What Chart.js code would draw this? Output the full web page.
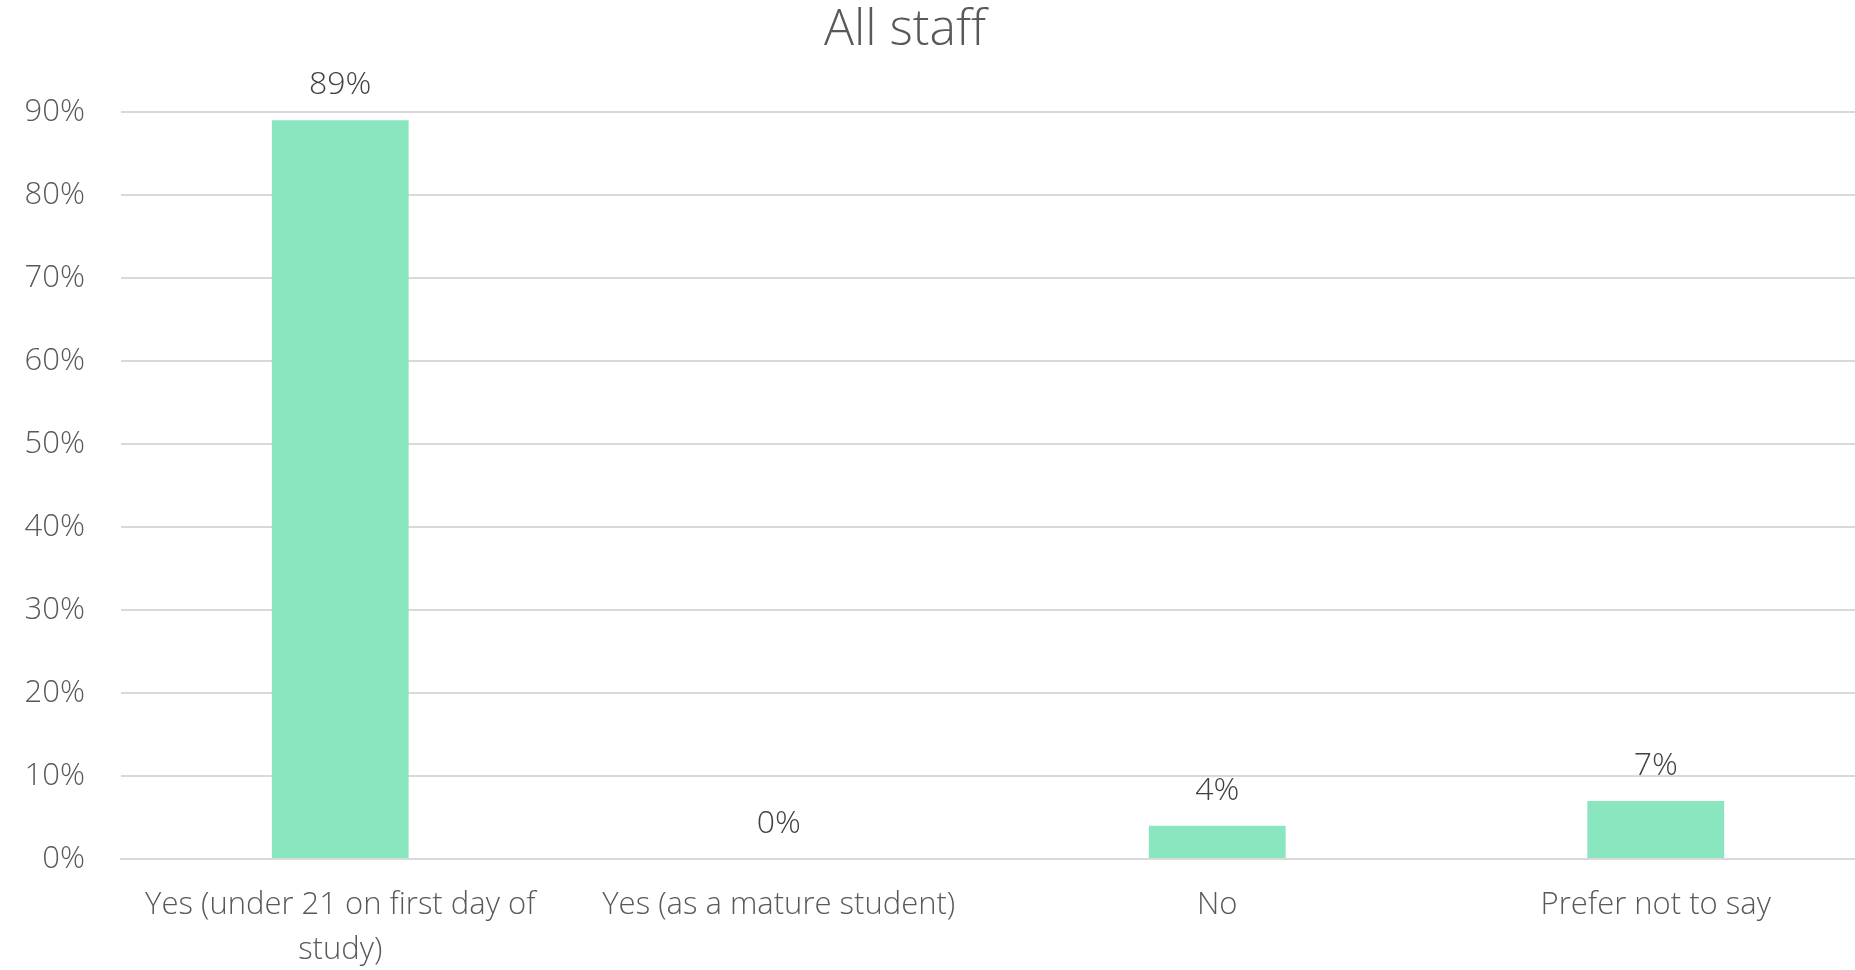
<!DOCTYPE html>
<html>
<head>
<meta charset="utf-8">
<script src="https://cdn.jsdelivr.net/npm/chart.js@4.4.1/dist/chart.umd.min.js"></script>
<style>
  html, body { margin: 0; padding: 0; overflow: hidden; background: #ffffff; }
  #wrap { position: relative; width: 1875px; height: 970px; }
</style>
</head>
<body>
<div id="wrap"><canvas id="c"></canvas></div>
<script>
const chartTitle = "All staff";
const categories = [
  ["Yes (under 21 on first day of", "study)"],
  "Yes (as a mature student)",
  "No",
  "Prefer not to say"
];
const values = [89, 0, 4, 7];
const yTicks = [0, 10, 20, 30, 40, 50, 60, 70, 80, 90];

const FONT = "'Open Sans', Lato, sans-serif";

const valueLabels = {
  id: 'valueLabels',
  afterDatasetsDraw(chart) {
    const ctx = chart.ctx;
    const meta = chart.getDatasetMeta(0);
    ctx.save();
    ctx.font = "300 32px " + FONT;
    ctx.fillStyle = "#404040";
    ctx.textAlign = "center";
    ctx.textBaseline = "middle";
    meta.data.forEach((bar, i) => {
      ctx.fillText(values[i] + "%", bar.x, bar.y - 35);
    });
    ctx.restore();
  }
};

const titlePlugin = {
  id: 'customTitle',
  afterDraw(chart) {
    const ctx = chart.ctx;
    ctx.save();
    ctx.font = "300 50px " + FONT;
    ctx.fillStyle = "#595959";
    ctx.textAlign = "center";
    ctx.textBaseline = "middle";
    ctx.fillText(chartTitle, 905, 31);
    ctx.restore();
  }
};

new Chart(document.getElementById('c'), {
  type: 'bar',
  data: {
    labels: categories,
    datasets: [{
      data: values,
      backgroundColor: '#8AE6BF',
      borderWidth: 0,
      barPercentage: 0.312,
      categoryPercentage: 1.0
    }]
  },
  options: {
    responsive: true,
    maintainAspectRatio: false,
    animation: false,
    layout: { padding: { top: 112, left: 0, right: 0, bottom: 0 } },
    plugins: {
      legend: { display: false },
      tooltip: { enabled: false },
      title: { display: false }
    },
    scales: {
      x: {
        afterFit(scale) { scale.height = 111; },
        grid: { display: false },
        border: { display: true, color: '#d9d9d9', width: 2 },
        ticks: {
          color: '#595959',
          font: { family: FONT, size: 31, weight: '300', lineHeight: 1.45 },
          padding: 16,
          maxRotation: 0,
          autoSkip: false
        }
      },
      y: {
        min: 0,
        max: 90,
        afterFit(scale) { scale.width = 121; },
        afterBuildTicks(scale) { scale.ticks = yTicks.map(v => ({ value: v })); },
        grid: { color: '#d9d9d9', lineWidth: 2, drawTicks: false },
        border: { display: false },
        ticks: {
          color: '#595959',
          font: { family: FONT, size: 31, weight: '300' },
          padding: 36,
          callback: v => v + '%'
        }
      }
    }
  },
  plugins: [valueLabels, titlePlugin]
});
</script>
</body>
</html>
